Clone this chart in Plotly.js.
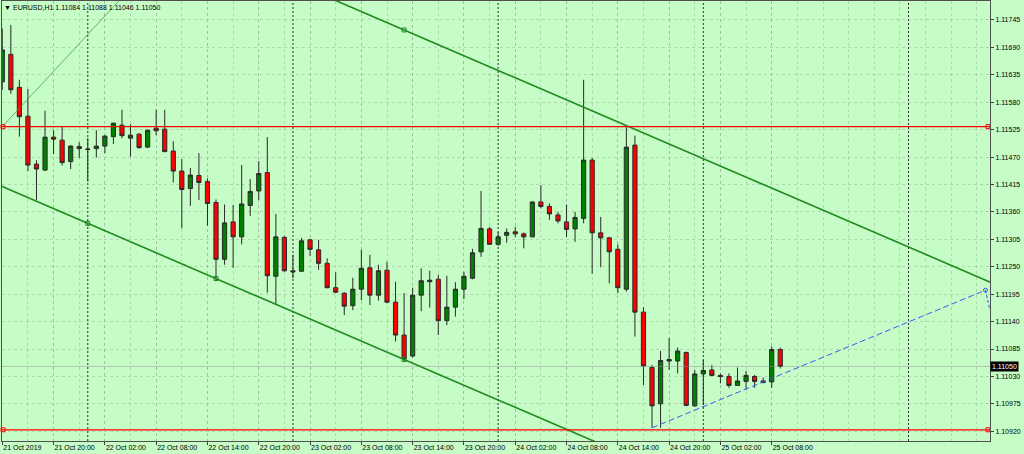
<!DOCTYPE html>
<html><head><meta charset="utf-8">
<script src="https://cdn.plot.ly/plotly-3.0.1.min.js"></script>
<style>html,body{margin:0;padding:0;background:#c6fcc6;}#chart{width:1024px;height:454px;}</style>
</head><body><div id="chart"></div>
<script>
const symbol = 'EURUSD,H1';
const barTimes = [
 '2019-10-21 14:00','2019-10-21 15:00','2019-10-21 16:00','2019-10-21 17:00','2019-10-21 18:00','2019-10-21 19:00','2019-10-21 20:00','2019-10-21 21:00','2019-10-21 22:00','2019-10-21 23:00',
 '2019-10-22 00:00','2019-10-22 01:00','2019-10-22 02:00','2019-10-22 03:00','2019-10-22 04:00','2019-10-22 05:00','2019-10-22 06:00','2019-10-22 07:00','2019-10-22 08:00','2019-10-22 09:00','2019-10-22 10:00','2019-10-22 11:00',
 '2019-10-22 12:00','2019-10-22 13:00','2019-10-22 14:00','2019-10-22 15:00','2019-10-22 16:00','2019-10-22 17:00','2019-10-22 18:00','2019-10-22 19:00','2019-10-22 20:00','2019-10-22 21:00','2019-10-22 22:00','2019-10-22 23:00',
 '2019-10-23 00:00','2019-10-23 01:00','2019-10-23 02:00','2019-10-23 03:00','2019-10-23 04:00','2019-10-23 05:00','2019-10-23 06:00','2019-10-23 07:00','2019-10-23 08:00','2019-10-23 09:00','2019-10-23 10:00','2019-10-23 11:00',
 '2019-10-23 12:00','2019-10-23 13:00','2019-10-23 14:00','2019-10-23 15:00','2019-10-23 16:00','2019-10-23 17:00','2019-10-23 18:00','2019-10-23 19:00','2019-10-23 20:00','2019-10-23 21:00','2019-10-23 22:00','2019-10-23 23:00',
 '2019-10-24 00:00','2019-10-24 01:00','2019-10-24 02:00','2019-10-24 03:00','2019-10-24 04:00','2019-10-24 05:00','2019-10-24 06:00','2019-10-24 07:00','2019-10-24 08:00','2019-10-24 09:00','2019-10-24 10:00','2019-10-24 11:00',
 '2019-10-24 12:00','2019-10-24 13:00','2019-10-24 14:00','2019-10-24 15:00','2019-10-24 16:00','2019-10-24 17:00','2019-10-24 18:00','2019-10-24 19:00','2019-10-24 20:00','2019-10-24 21:00','2019-10-24 22:00','2019-10-24 23:00',
 '2019-10-25 00:00','2019-10-25 01:00','2019-10-25 02:00','2019-10-25 03:00','2019-10-25 04:00','2019-10-25 05:00','2019-10-25 06:00','2019-10-25 07:00','2019-10-25 08:00','2019-10-25 09:00'
];
const openP = [
 1.11621,1.11676,1.11610,1.11552,1.11456,1.11444,1.11510,1.11504,1.11461,1.11491,
 1.11485,1.11487,1.11492,1.11511,1.11534,1.11508,1.11516,1.11490,1.11528,1.11526,1.11482,1.11442,
 1.11407,1.11433,1.11421,1.11379,1.11265,1.11340,1.11310,1.11373,1.11402,1.11439,1.11231,1.11309,
 1.11242,1.11241,1.11304,1.11284,1.11257,1.11208,1.11197,1.11172,1.11205,1.11248,1.11193,1.11243,
 1.11179,1.11113,1.11071,1.11193,1.11220,1.11225,1.11142,1.11169,1.11205,1.11227,1.11280,1.11326,
 1.11295,1.11313,1.11320,1.11316,1.11310,1.11380,1.11371,1.11354,1.11340,1.11326,1.11347,1.11464,
 1.11318,1.11308,1.11285,1.11205,1.11494,1.11159,1.11048,1.10975,1.11064,1.11061,1.11078,1.10971,
 1.11035,1.11043,1.11032,1.11030,1.11012,1.11020,1.11030,1.11021,1.11019,1.11084
];
const highP = [
 1.11728,1.11735,1.11625,1.11607,1.11464,1.11563,1.11524,1.11531,1.11494,1.11500,
 1.11508,1.11524,1.11514,1.11539,1.11565,1.11536,1.11518,1.11525,1.11565,1.11565,1.11502,1.11466,
 1.11448,1.11478,1.11427,1.11385,1.11375,1.11374,1.11454,1.11426,1.11462,1.11510,1.11356,1.11312,
 1.11274,1.11308,1.11306,1.11304,1.11267,1.11239,1.11199,1.11228,1.11284,1.11274,1.11254,1.11260,
 1.11220,1.11197,1.11208,1.11247,1.11242,1.11234,1.11232,1.11219,1.11240,1.11286,1.11402,1.11330,
 1.11320,1.11327,1.11330,1.11319,1.11381,1.11414,1.11377,1.11360,1.11375,1.11360,1.11625,1.11468,
 1.11350,1.11310,1.11295,1.11531,1.11513,1.11169,1.11053,1.11081,1.11107,1.11088,1.11080,1.11043,
 1.11063,1.11053,1.11036,1.11036,1.11048,1.11041,1.11033,1.11028,1.11090,1.11088
];
const lowP = [
 1.11605,1.11597,1.11511,1.11442,1.11384,1.11442,1.11476,1.11453,1.11446,1.11468,
 1.11421,1.11469,1.11478,1.11496,1.11508,1.11471,1.11487,1.11488,1.11514,1.11480,1.11419,1.11327,
 1.11372,1.11384,1.11332,1.11223,1.11254,1.11248,1.11295,1.11352,1.11384,1.11198,1.11173,1.11240,
 1.11227,1.11240,1.11272,1.11244,1.11207,1.11197,1.11153,1.11163,1.11183,1.11173,1.11182,1.11177,
 1.11100,1.11060,1.11068,1.11161,1.11168,1.11113,1.11133,1.11150,1.11185,1.11225,1.11270,1.11294,
 1.11292,1.11298,1.11310,1.11287,1.11309,1.11367,1.11344,1.11337,1.11310,1.11300,1.11337,1.11236,
 1.11249,1.11217,1.11197,1.11200,1.11110,1.11013,1.10927,1.10927,1.11043,1.11036,1.10970,1.10969,
 1.10973,1.11031,1.11016,1.11007,1.11011,1.11003,1.11007,1.11016,1.11007,1.11046
];
const closeP = [
 1.11685,1.11605,1.11551,1.11454,1.11446,1.11510,1.11506,1.11459,1.11492,1.11487,
 1.11486,1.11492,1.11512,1.11538,1.11513,1.11514,1.11489,1.11524,1.11523,1.11481,1.11442,1.11405,
 1.11434,1.11419,1.11377,1.11265,1.11338,1.11310,1.11376,1.11401,1.11437,1.11232,1.11310,1.11242,
 1.11240,1.11302,1.11285,1.11257,1.11208,1.11199,1.11171,1.11205,1.11247,1.11193,1.11242,1.11179,
 1.11113,1.11066,1.11193,1.11222,1.11223,1.11142,1.11169,1.11205,1.11231,1.11278,1.11327,1.11295,
 1.11310,1.11319,1.11316,1.11310,1.11380,1.11371,1.11356,1.11342,1.11325,1.11349,1.11464,1.11318,
 1.11308,1.11280,1.11208,1.11490,1.11159,1.11051,1.10971,1.11062,1.11061,1.11081,1.10972,1.11035,
 1.11042,1.11032,1.11030,1.11012,1.11021,1.11032,1.11020,1.11018,1.11084,1.11050
];
const xTickTimes = ['2019-10-21 14:00','2019-10-21 20:00','2019-10-22 02:00','2019-10-22 08:00','2019-10-22 14:00','2019-10-22 20:00',
 '2019-10-23 02:00','2019-10-23 08:00','2019-10-23 14:00','2019-10-23 20:00','2019-10-24 02:00','2019-10-24 08:00',
 '2019-10-24 14:00','2019-10-24 20:00','2019-10-25 02:00','2019-10-25 08:00'];
const xTickText = ['21 Oct 2019','21 Oct 20:00','22 Oct 02:00','22 Oct 08:00','22 Oct 14:00','22 Oct 20:00',
 '23 Oct 02:00','23 Oct 08:00','23 Oct 14:00','23 Oct 20:00','24 Oct 02:00','24 Oct 08:00',
 '24 Oct 14:00','24 Oct 20:00','25 Oct 02:00','25 Oct 08:00'];
const yTickVals = [1.10920,1.10975,1.11030,1.11085,1.11140,1.11195,1.11250,1.11305,1.11360,1.11415,1.11470,1.11525,1.11580,1.11635,1.11690,1.11745];
const redLevels = [1.11531, 1.10923];
const channelLowerTimes = ['2019-10-22 00:00','2019-10-23 13:00'];
const channelLowerPrices = [1.11337, 1.11064];
const channelMidTime = '2019-10-22 15:00';
const channelUpperTime = '2019-10-23 13:00';
const channelUpperPrice = 1.11725;
const thinLineTimes = ['2019-10-21 14:00','2019-10-22 00:00'];
const thinLinePrices = [1.11531, 1.11716];
const blueLineTimes = ['2019-10-24 18:00','2019-10-26 09:00','2019-10-26 09:30'];
const blueLinePrices = [1.10927, 1.11203, 1.11165];
const separatorTimes = ['2019-10-22 00:00','2019-10-23 00:00','2019-10-24 00:00','2019-10-25 00:00','2019-10-26 00:00'];
const xRange = ['2019-10-21 13:58','2019-10-26 09:32'];
const yRange = [1.109005, 1.117831];

const toMs = s => { const [d,t] = s.split(' '); const [Y,M,D] = d.split('-').map(Number); const [h,m] = t.split(':').map(Number); return Date.UTC(Y,M-1,D,h,m); };
const HOUR = 3600000;
const x0 = toMs(xRange[0]), x1 = toMs(xRange[1]);
function extend(t1,p1,t2,p2,ta,tb){ const k=(p2-p1)/(t2-t1); return {x:[ta,tb], y:[p1+k*(ta-t1), p1+k*(tb-t1)]}; }

const lt1 = toMs(channelLowerTimes[0]), lt2 = toMs(channelLowerTimes[1]);
const lowerExt = extend(lt1, channelLowerPrices[0], lt2, channelLowerPrices[1], x0 - 2*HOUR, x1 + 2*HOUR);
const slope = (channelLowerPrices[1]-channelLowerPrices[0])/(lt2-lt1);
const ut = toMs(channelUpperTime);
const upperExt = extend(ut, channelUpperPrice, ut + HOUR, channelUpperPrice + slope*HOUR, x0 - 2*HOUR, x1 + 2*HOUR);
const midT = toMs(channelMidTime);
const midP = channelLowerPrices[0] + slope*(midT - lt1);
const tt1 = toMs(thinLineTimes[0]), tt2 = toMs(thinLineTimes[1]);
const thinExt = extend(tt1, thinLinePrices[0], tt2, thinLinePrices[1], tt1, tt1 + 20*HOUR);

const gridCol = 'rgba(130,140,130,0.32)';
const traces = [];
traces.push({type:'scatter', mode:'lines', x:[x0,x1], y:[closeP[closeP.length-1], closeP[closeP.length-1]], line:{color:'rgba(150,150,150,0.5)', width:1}, hoverinfo:'skip'});
traces.push({type:'scatter', mode:'lines', x:thinExt.x, y:thinExt.y, line:{color:'rgba(60,160,60,0.75)', width:1}, hoverinfo:'skip'});
traces.push({type:'scatter', mode:'lines', x:lowerExt.x, y:lowerExt.y, line:{color:'#1f8a1f', width:1.6}, hoverinfo:'skip'});
traces.push({type:'scatter', mode:'lines', x:upperExt.x, y:upperExt.y, line:{color:'#1f8a1f', width:1.6}, hoverinfo:'skip'});
traces.push({type:'scatter', mode:'markers', x:[lt1, midT, lt2, ut], y:[channelLowerPrices[0], midP, channelLowerPrices[1], channelUpperPrice],
  marker:{symbol:'square-open', size:4, color:'#1f8a1f', line:{width:1}}, hoverinfo:'skip'});
redLevels.forEach(v => {
  traces.push({type:'scatter', mode:'lines', x:[x0,x1], y:[v,v], line:{color:'#ff0000', width:1.2}, hoverinfo:'skip'});
  traces.push({type:'scatter', mode:'markers', x:[x0 + 0.12*HOUR, x1 - 0.23*HOUR], y:[v,v], marker:{symbol:'square-open', size:4, color:'#ff0000', line:{width:1}}, hoverinfo:'skip', cliponaxis:false});
});
traces.push({type:'candlestick', x:barTimes, open:openP, high:highP, low:lowP, close:closeP,
  increasing:{fillcolor:'#008000', line:{color:'#2a2a2a', width:1}},
  decreasing:{fillcolor:'#ff0000', line:{color:'#2a2a2a', width:1}},
  whiskerwidth:0, hoverinfo:'skip'});
traces.push({type:'scatter', mode:'lines', x:blueLineTimes.slice(0,2), y:blueLinePrices.slice(0,2), line:{color:'#3a5cf0', width:1, dash:'6px,3px'}, hoverinfo:'skip'});
traces.push({type:'scatter', mode:'lines', x:blueLineTimes.slice(1), y:blueLinePrices.slice(1), line:{color:'#3a5cf0', width:1, dash:'3px,2px'}, hoverinfo:'skip'});
traces.push({type:'scatter', mode:'markers', x:[blueLineTimes[1]], y:[blueLinePrices[1]], marker:{symbol:'circle-open', size:4, color:'#3a5cf0', line:{width:1}}, hoverinfo:'skip'});

const minorVals = [];
for (let t = toMs('2019-10-21 14:00'); t <= x1; t += 3*HOUR) minorVals.push(t);

const shapes = separatorTimes.map(s => ({type:'line', xref:'x', yref:'paper', x0:s, x1:s, y0:0, y1:1, layer:'between', line:{color:'#303030', width:1, dash:'2px,2px'}}));

const last = closeP.length - 1;
const f5 = v => v.toFixed(5);
const layout = {
  width:1024, height:454,
  margin:{l:2, r:34, t:1, b:13, pad:0},
  paper_bgcolor:'#c6fcc6', plot_bgcolor:'#c6fcc6',
  showlegend:false,
  font:{family:'Liberation Sans, Arial, sans-serif', size:7, color:'#000'},
  title:{text:'▼ ' + symbol + ' ' + [openP[last],highP[last],lowP[last],closeP[last]].map(f5).join(' '),
    x:0.004, xanchor:'left', xref:'container', y:1 - 7.5/454, yanchor:'middle', yref:'container',
    font:{family:'Liberation Sans, Arial, sans-serif', size:7, color:'#000'}},
  xaxis:{type:'date', range:[x0,x1], rangeslider:{visible:false}, fixedrange:true,
    tickmode:'array', tickvals:xTickTimes, ticktext:xTickText, ticks:'outside', ticklen:3, tickcolor:'#404040',
    ticklabelposition:'outside right', tickfont:{size:7, color:'#000'},
    showgrid:true, gridcolor:gridCol, griddash:'3px,3px', gridwidth:1,
    minor:{tickmode:'array', tickvals:minorVals, showgrid:true, gridcolor:gridCol, griddash:'3px,3px', ticks:''},
    showline:true, linecolor:'#505050', linewidth:1, mirror:true, zeroline:false},
  yaxis:{range:yRange, side:'right', fixedrange:true, tickmode:'array', tickvals:yTickVals, ticktext:yTickVals.map(f5),
    ticks:'outside', ticklen:3, tickcolor:'#404040', tickfont:{size:7, color:'#000'},
    showgrid:true, gridcolor:gridCol, griddash:'3px,3px', gridwidth:1,
    showline:true, linecolor:'#505050', linewidth:1, mirror:true, zeroline:false},
  shapes:shapes,
  annotations:[{xref:'paper', x:1, xanchor:'left', xshift:0, yref:'y', y:closeP[last], yanchor:'middle',
    text:f5(closeP[last]), showarrow:false, bgcolor:'#000000', borderpad:1,
    font:{family:'Liberation Sans, Arial, sans-serif', size:7, color:'#ffffff'}}]
};
Plotly.newPlot('chart', traces, layout, {displayModeBar:false, staticPlot:true});
</script></body></html>
